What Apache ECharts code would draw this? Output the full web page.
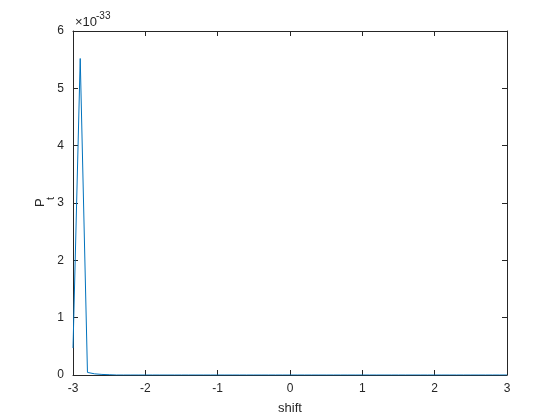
<!DOCTYPE html>
<html>
<head>
<meta charset="utf-8">
<script src="https://cdn.jsdelivr.net/npm/echarts@6/dist/echarts.min.js"></script>
<style>html,body{margin:0;padding:0;background:#fff;}#c{width:560px;height:420px;}</style>
</head>
<body>
<div id="c"></div>
<script>
// shift values
const shiftValues = [-3.0,-2.9,-2.8,-2.7,-2.6,-2.5,-2.4,-2.3,-2.2,-2.1,-2.0,-1.9,-1.8,-1.7,-1.6,-1.5,-1.4,-1.3,-1.2,-1.1,-1.0,-0.9,-0.8,-0.7,-0.6,-0.5,-0.4,-0.3,-0.2,-0.1,0.0,0.1,0.2,0.3,0.4,0.5,0.6,0.7,0.8,0.9,1.0,1.1,1.2,1.3,1.4,1.5,1.6,1.7,1.8,1.9,2.0,2.1,2.2,2.3,2.4,2.5,2.6,2.7,2.8,2.9,3.0];
// P_t values, in units of 1e-33
const ptValues = [0.47,5.52,0.045,0.02,0.01,0.005,0,0,0,0,0,0,0,0,0,0,0,0,0,0,0,0,0,0,0,0,0,0,0,0,0,0,0,0,0,0,0,0,0,0,0,0,0,0,0,0,0,0,0,0,0,0,0,0,0,0,0,0,0,0,0];
const xTicks = [-3,-2,-1,0,1,2,3];
const yTicks = [0,1,2,3,4,5,6];
const xLabel = 'shift';
const yLabelMain = 'P';
const yLabelSub = 't';
const exponentBase = '\u00d710';
const exponent = '-33';

const axisColor = '#262626';
const font = 'Liberation Sans, Arial, sans-serif';
const chart = echarts.init(document.getElementById('c'));
const baseAxis = {
  axisLine: {show: true, onZero: false, lineStyle: {color: axisColor, width: 1}},
  axisTick: {show: true, inside: true, length: 5, lineStyle: {color: axisColor}},
  splitLine: {show: false}
};
chart.setOption({
  animation: false,
  backgroundColor: '#fff',
  grid: {left: 73, right: 53, top: 31, bottom: 45, containLabel: false},
  xAxis: [
    Object.assign({}, baseAxis, {
      type: 'value', position: 'bottom', min: xTicks[0], max: xTicks[xTicks.length-1], interval: 1,
      axisLabel: {color: axisColor, fontFamily: font, fontSize: 12, margin: 8},
      name: xLabel, nameLocation: 'middle', nameGap: 27,
      nameTextStyle: {color: axisColor, fontFamily: font, fontSize: 13}
    }),
    Object.assign({}, baseAxis, {
      type: 'value', position: 'top', min: xTicks[0], max: xTicks[xTicks.length-1], interval: 1,
      axisLabel: {show: false}
    })
  ],
  yAxis: [
    Object.assign({}, baseAxis, {
      type: 'value', position: 'left', min: yTicks[0], max: yTicks[yTicks.length-1], interval: 1,
      axisLabel: {color: axisColor, fontFamily: font, fontSize: 12, margin: 9}
    }),
    Object.assign({}, baseAxis, {
      type: 'value', position: 'right', min: yTicks[0], max: yTicks[yTicks.length-1], interval: 1,
      axisLabel: {show: false}
    })
  ],
  graphic: [
    {type: 'text', x: 75, y: 16, style: {text: exponentBase, fill: axisColor, font: '13px ' + font}},
    {type: 'text', x: 96, y: 11, style: {text: exponent, fill: axisColor, font: '10px ' + font}},
    {type: 'text', x: 34, y: 207, rotation: Math.PI/2, style: {text: yLabelMain, fill: axisColor, font: '13px ' + font}},
    {type: 'text', x: 45, y: 200, rotation: Math.PI/2, style: {text: yLabelSub, fill: axisColor, font: '11px ' + font}}
  ],
  series: [{
    type: 'line',
    xAxisIndex: 0, yAxisIndex: 0,
    data: shiftValues.map((x, i) => [x, ptValues[i]]),
    showSymbol: false,
    symbol: 'none',
    lineStyle: {color: '#0072BD', width: 1},
    clip: true
  }]
});
</script>
</body>
</html>
